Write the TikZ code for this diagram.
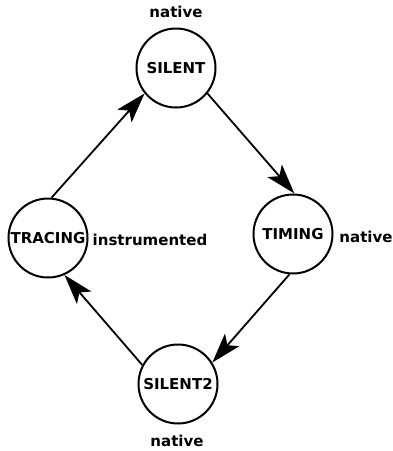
\documentclass[tikz,border=0pt]{standalone}
\usepackage{fontspec}
\setmainfont{DejaVu Sans}
\usetikzlibrary{arrows.meta}

\begin{document}
\begin{tikzpicture}[x=1pt,y=-1pt,
    font=\fontsize{15}{17}\selectfont\bfseries,
    state/.style={circle,draw,line width=2pt,minimum size=79pt,inner sep=0pt},
    mode/.style={inner sep=0pt},
    trans/.style={line width=1.8pt,-{Stealth[length=30pt,width=19pt,inset=7pt]}}]
    \useasboundingbox (0,0) rectangle (393,451);

    % states
    \node[state] (silent)  at (176,68)  {SILENT};
    \node[state] (timing)  at (293,234) {TIMING};
    \node[state] (silenttwo) at (178,384) {SILENT2};
    \node[state] (tracing) at (48,238)  {TRACING};

    % modes
    \node[mode] (nsilent)  at (176,12)  {native};
    \node[mode] (ntiming)  at (366,237) {native};
    \node[mode] (itracing) at (150,240) {instrumented};
    \node[mode] (nsilenttwo) at (177,441) {native};

    % transitions
    \draw[trans] (silent.-39)    -- (timing.88);
    \draw[trans] (timing.-95)    -- (silenttwo.32);
    \draw[trans] (silenttwo.152) -- (tracing.-66);
    \draw[trans] (tracing.85)    -- (silent.-141);
\end{tikzpicture}
\end{document}
